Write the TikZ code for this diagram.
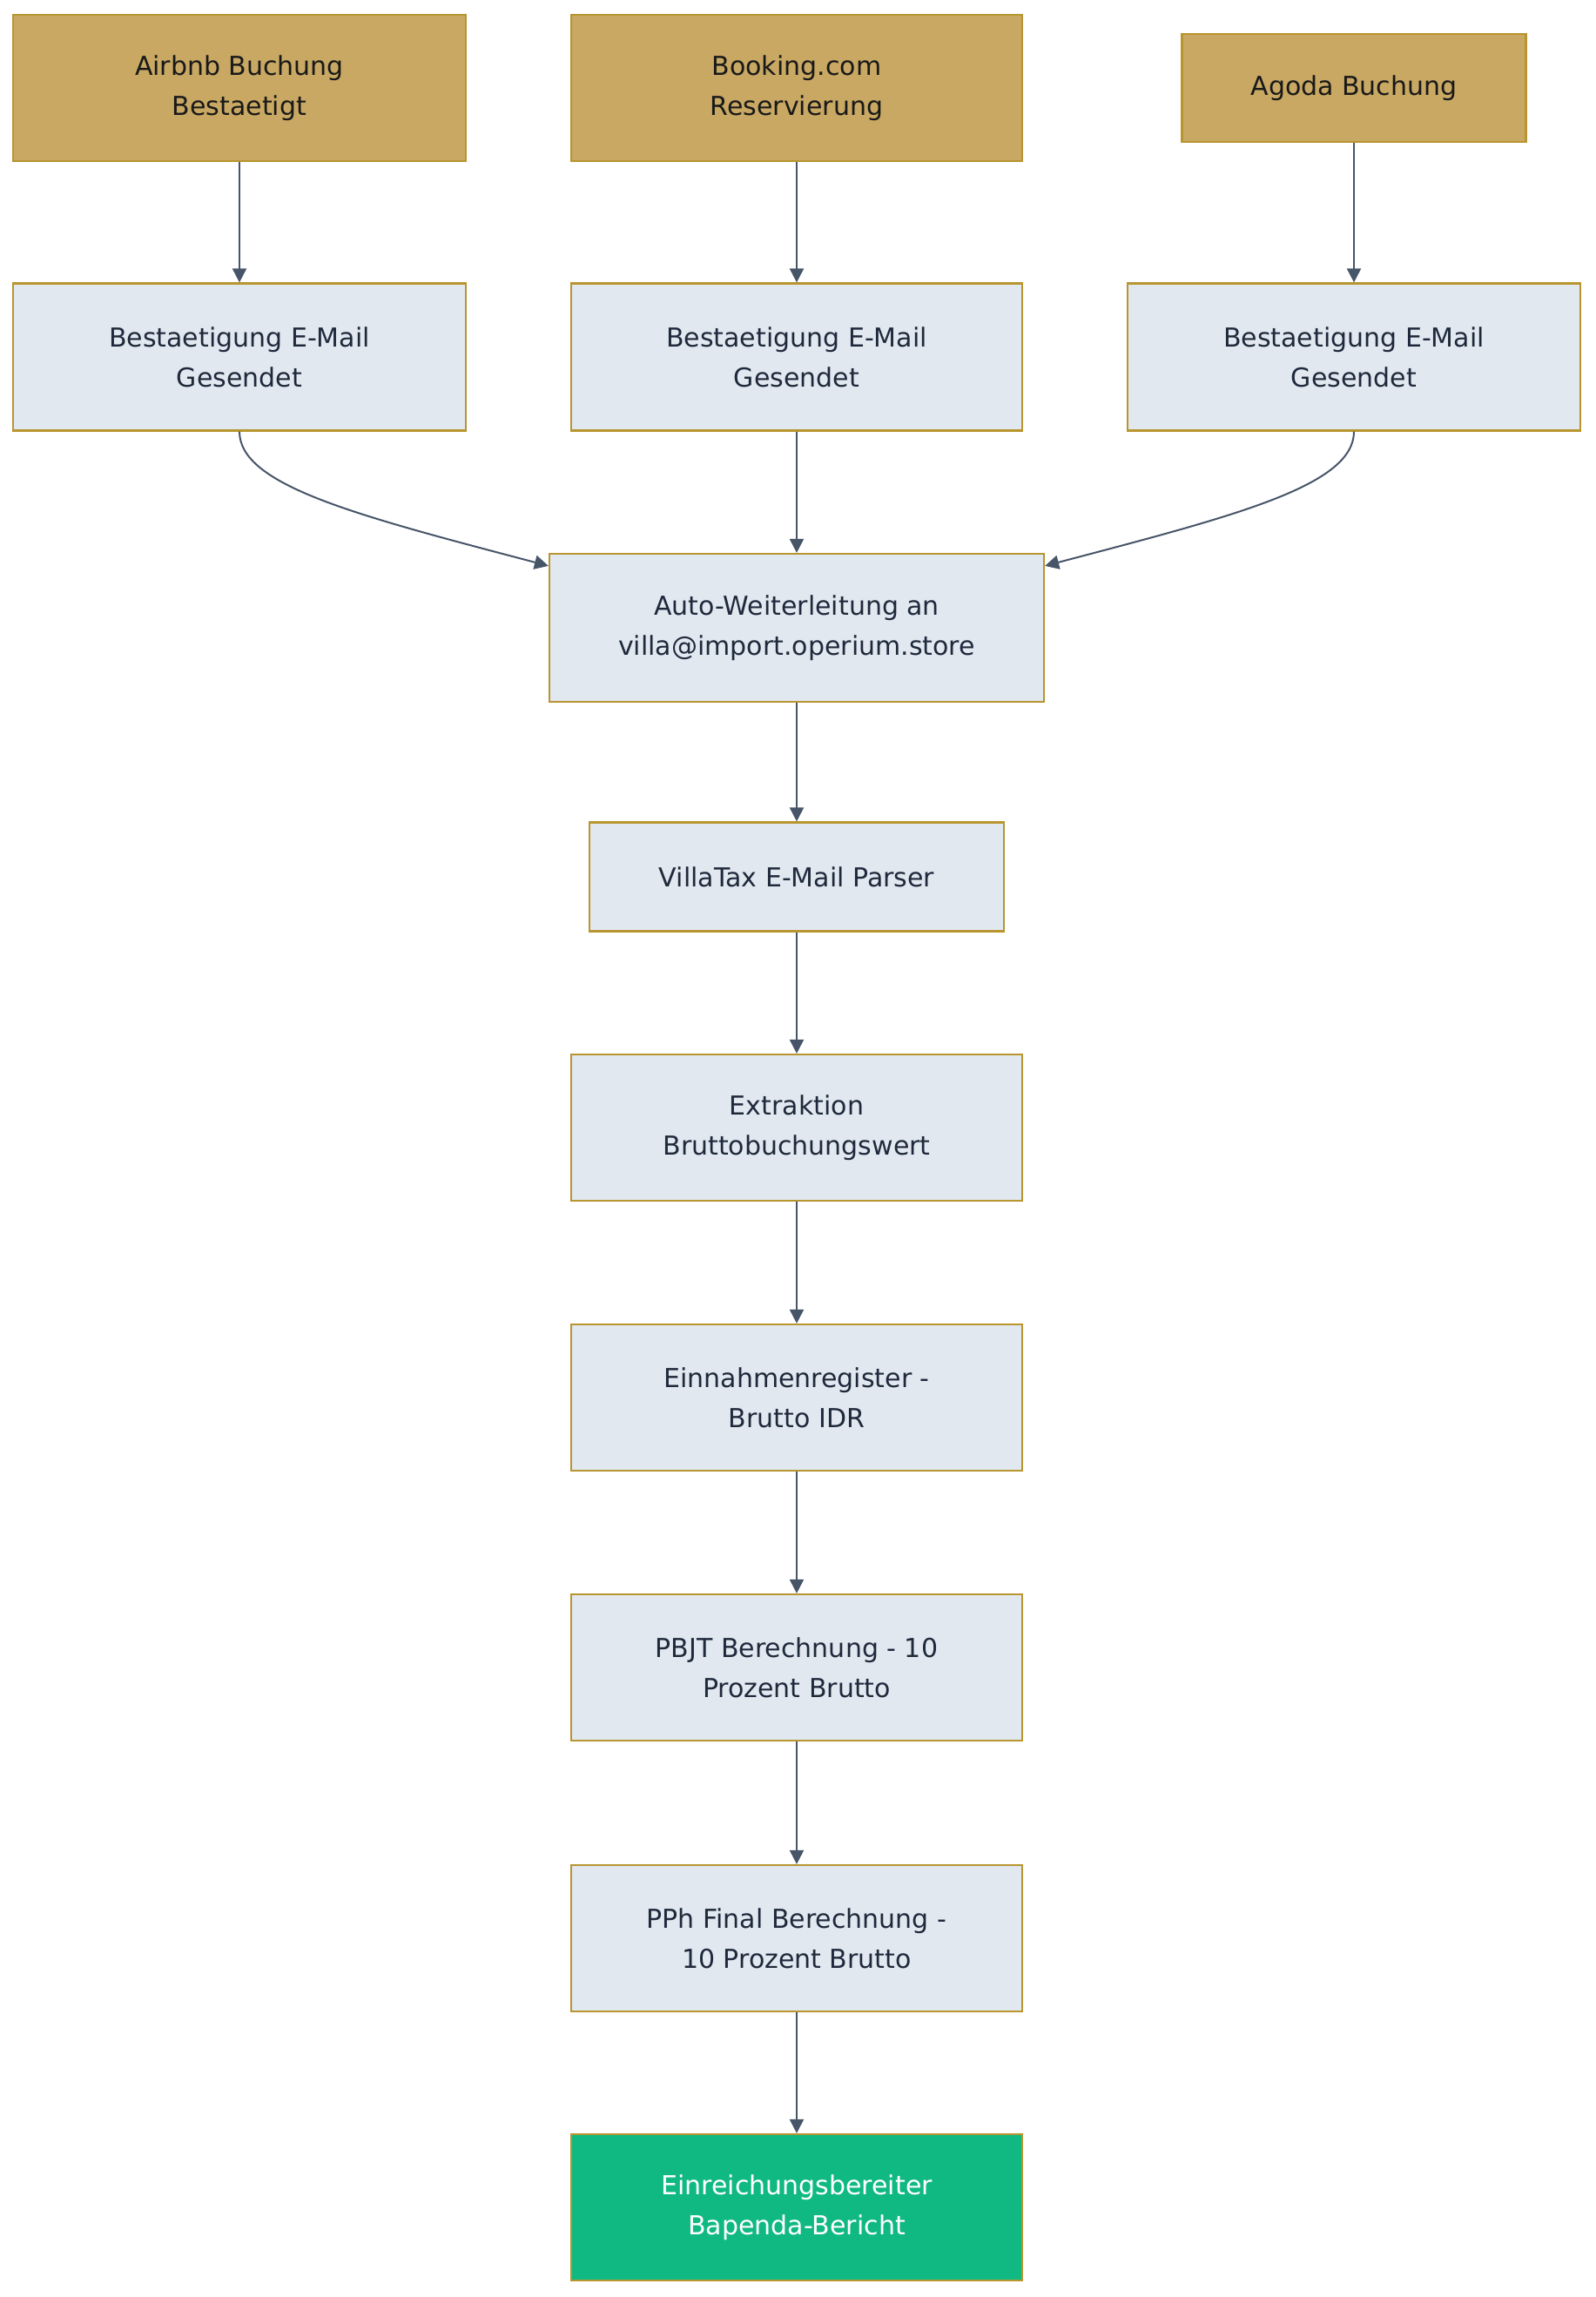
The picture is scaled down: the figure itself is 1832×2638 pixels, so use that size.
\documentclass[tikz,border=0pt]{standalone}
\usepackage{fontspec}
\setmainfont{DejaVu Sans}
\usetikzlibrary{arrows.meta,calc}
\definecolor{goldfill}{HTML}{C8A863}
\definecolor{goldline}{HTML}{B8952F}
\definecolor{lightfill}{HTML}{E2E8F0}
\definecolor{darktext}{HTML}{1E293B}
\definecolor{edgecol}{HTML}{475569}
\definecolor{greenfill}{HTML}{10B981}
\tikzset{
  box/.style={draw=goldline, line width=2.2pt, fill=lightfill, text=darktext,
    align=center, inner sep=0pt, font=\fontsize{30}{46}\selectfont},
  srcbox/.style={box, fill=goldfill, text=black!90},
  endbox/.style={box, fill=greenfill, text=white},
  conn/.style={draw=edgecol, line width=2pt, -{Triangle[length=16pt,width=16pt]}}
}
\begin{document}
\begin{tikzpicture}[x=1pt,y=-1pt]
\useasboundingbox (0,0) rectangle (1832,2638);
\fill[white] (0,0) rectangle (1832,2638);
% sources
\node[srcbox, minimum width=520pt, minimum height=168pt] (air) at (275,101) {Airbnb Buchung\\Bestaetigt};
\node[srcbox, minimum width=518pt, minimum height=168pt] (book) at (915,101) {Booking.com\\Reservierung};
\node[srcbox, minimum width=395pt, minimum height=124pt] (agoda) at (1555,101) {Agoda Buchung};
% confirmations
\node[box, minimum width=520pt, minimum height=169pt] (b1) at (275,410) {Bestaetigung E-Mail\\Gesendet};
\node[box, minimum width=518pt, minimum height=169pt] (b2) at (915,410) {Bestaetigung E-Mail\\Gesendet};
\node[box, minimum width=520pt, minimum height=169pt] (b3) at (1555,410) {Bestaetigung E-Mail\\Gesendet};
% chain
\node[box, minimum width=568pt, minimum height=170pt] (auto) at (915,721) {Auto-Weiterleitung an\\villa@import.operium.store};
\node[box, minimum width=476pt, minimum height=125pt] (parser) at (915,1007) {VillaTax E-Mail Parser};
\node[box, minimum width=518pt, minimum height=168pt] (extr) at (915,1295) {Extraktion\\Bruttobuchungswert};
\node[box, minimum width=518pt, minimum height=168pt] (einn) at (915,1605) {Einnahmenregister -\\Brutto IDR};
\node[box, minimum width=518pt, minimum height=168pt] (pbjt) at (915,1915) {PBJT Berechnung - 10\\Prozent Brutto};
\node[box, minimum width=518pt, minimum height=168pt] (pph) at (915,2226) {PPh Final Berechnung -\\10 Prozent Brutto};
\node[endbox, minimum width=518pt, minimum height=168pt] (fin) at (915,2535) {Einreichungsbereiter\\Bapenda-Bericht};
% anchor points on the forwarding box
\coordinate (autoL) at ($(auto.north west)+(0,15)$);
\coordinate (autoR) at ($(auto.north east)+(0,15)$);
% edges
\draw[conn] (air.south) -- (b1.north);
\draw[conn] (book.south) -- (b2.north);
\draw[conn] (agoda.south) -- (b3.north);
\draw[conn] (b1.south) .. controls ($(b1.south)+(0,62)$) and ($(autoL)+(-220,-58)$) .. (autoL);
\draw[conn] (b2.south) -- (auto.north);
\draw[conn] (b3.south) .. controls ($(b3.south)+(0,62)$) and ($(autoR)+(220,-58)$) .. (autoR);
\draw[conn] (auto.south) -- (parser.north);
\draw[conn] (parser.south) -- (extr.north);
\draw[conn] (extr.south) -- (einn.north);
\draw[conn] (einn.south) -- (pbjt.north);
\draw[conn] (pbjt.south) -- (pph.north);
\draw[conn] (pph.south) -- (fin.north);
\end{tikzpicture}
\end{document}
